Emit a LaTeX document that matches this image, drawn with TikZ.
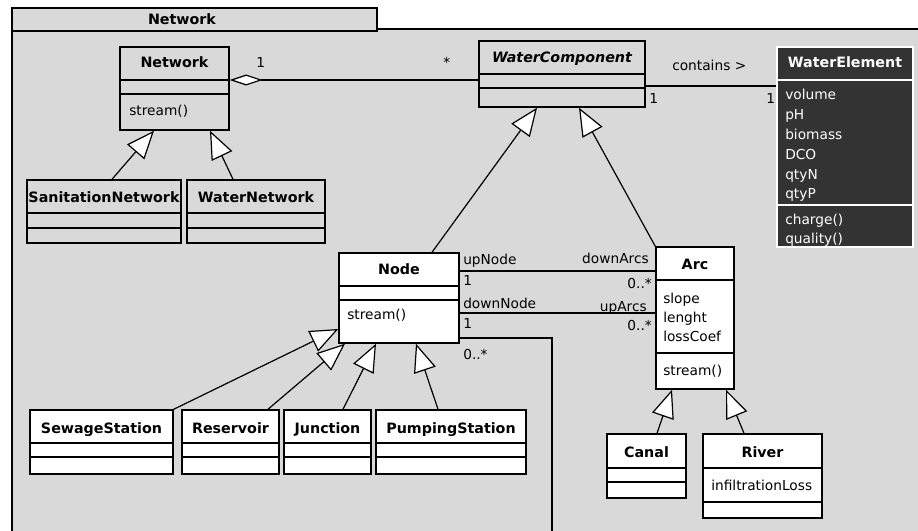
\documentclass[tikz,border=0pt]{standalone}
\usepackage{fontspec}
\setmainfont{DejaVu Sans}
\usetikzlibrary{arrows.meta,fit}
\definecolor{pkggray}{HTML}{D9D9D9}
\definecolor{darkbox}{HTML}{333333}
\begin{document}
\begin{tikzpicture}[x=0.75pt, y=-0.75pt,
    font=\fontsize{10.3}{12}\selectfont,
    cls/.style={draw, line width=1.1pt, fill=white, inner sep=0pt},
    sep/.style={line width=1.1pt},
    cname/.style={anchor=base, inner sep=0pt, font=\fontsize{10.7}{12}\selectfont\bfseries},
    item/.style={anchor=base west, inner sep=0pt},
    rlbl/.style={anchor=base east, inner sep=0pt},
    assoc/.style={line width=0.9pt},
    gen/.style={line width=0.9pt, -{Triangle[fill=white, length=21pt, width=17pt]}},
    aggr/.style={line width=0.9pt, {Diamond[fill=white, length=24.75pt, width=8.25pt]}-}]
    \useasboundingbox (0,0) rectangle (918,531);
    \clip (0,0) rectangle (918,531);

    % Package frame
    \draw[line width=1.3pt, fill=pkggray] (12,29) rectangle (940,560);
    \draw[line width=1.3pt, fill=pkggray] (12,8) rectangle (377,31);
    \node[cname] (pkgtitle) at (182,25) {Network};

    % Network hierarchy
    \node[cls, fill=pkggray, fit={(120,47) (229,130)}] (network) {};
    \draw[sep] (network.west |- 0,80) -- (network.east |- 0,80);
    \draw[sep] (network.west |- 0,94) -- (network.east |- 0,94);
    \node[cname] (networkname) at (network.north |- 0,68) {Network};
    \node[item] (networkop) at (129,116) {stream()};

    \node[cls, fill=pkggray, fit={(27,180) (181,243)}] (sanitation) {};
    \node[cls, fill=pkggray, fit={(187,180) (325,243)}] (waternet) {};
    \foreach \c in {sanitation,waternet} {
        \draw[sep] (\c.west |- 0,213) -- (\c.east |- 0,213);
        \draw[sep] (\c.west |- 0,228) -- (\c.east |- 0,228);
    }
    \node[cname] (sanitationname) at (sanitation.north |- 0,203) {SanitationNetwork};
    \node[cname] (waternetname) at (waternet.north |- 0,203) {WaterNetwork};

    \draw[gen] (sanitation.north -| 112,0) -- (network.south -| 154,0);
    \draw[gen] (waternet.north -| 233,0) -- (network.south -| 210,0);

    % WaterComponent
    \node[cls, fill=pkggray, fit={(479,41) (645,107)}] (watercomp) {};
    \draw[sep] (watercomp.west |- 0,74) -- (watercomp.east |- 0,74);
    \draw[sep] (watercomp.west |- 0,88) -- (watercomp.east |- 0,88);
    \node[cname, font=\fontsize{10.7}{12}\selectfont\bfseries\itshape] (watercompname) at (watercomp.north |- 0,63) {WaterComponent};

    \draw[aggr] (network.east |- 0,80) -- (watercomp.west |- 0,80);
    \node[item] (aggrone) at (256,68) {1};
    \node[item] (aggrmany) at (443,68) {*};

    % WaterElement
    \node[cls, draw=white, fill=darkbox, fit={(777,47) (913,247)}] (waterelem) {};
    \draw[sep, white] (waterelem.west |- 0,80) -- (waterelem.east |- 0,80);
    \draw[sep, white] (waterelem.west |- 0,205) -- (waterelem.east |- 0,205);
    \node[cname, white] (waterelemname) at (waterelem.north |- 0,68) {WaterElement};
    \foreach \a [count=\i] in {volume,pH,biomass,DCO,qtyN,qtyP} {
        \node[item, white] (weattr\i) at (785,{80.2+19.8*\i}) {\a};
    }
    \node[item, white] (wecharge) at (785,224) {charge()};
    \node[item, white] (wequality) at (785,243.5) {quality()};

    \draw[assoc] (watercomp.east |- 0,86) -- (waterelem.west |- 0,86);
    \node[item] (containslbl) at (672,71) {contains >};
    \node[item] (wcone) at (649,104) {1};
    \node[item] (weone) at (766,104) {1};

    % Node and Arc
    \node[cls, fit={(339,253) (459,343)}] (node) {};
    \draw[sep] (node.west |- 0,286) -- (node.east |- 0,286);
    \draw[sep] (node.west |- 0,300) -- (node.east |- 0,300);
    \node[cname] (nodename) at (node.north |- 0,275) {Node};
    \node[item] (nodeop) at (347,320) {stream()};

    \node[cls, fit={(656,247) (734,389)}] (arc) {};
    \draw[sep] (arc.west |- 0,280) -- (arc.east |- 0,280);
    \draw[sep] (arc.west |- 0,353) -- (arc.east |- 0,353);
    \node[cname] (arcname) at (arc.north |- 0,270) {Arc};
    \foreach \a [count=\i] in {slope,lenght,lossCoef} {
        \node[item] (arcattr\i) at (663,{284+19*\i}) {\a};
    }
    \node[item] (arcop) at (663,375) {stream()};

    \draw[gen] (node.north -| 432,0) -- (watercomp.south -| 537,0);
    \draw[gen] (arc.north west) -- (watercomp.south -| 579,0);

    % Node -- Arc associations
    \draw[assoc] (node.east |- 0,271) -- (arc.west |- 0,271);
    \draw[assoc] (node.east |- 0,313) -- (arc.west |- 0,313);
    \node[item] (upnode) at (463,265) {upNode};
    \node[item] (upnodeone) at (463,286) {1};
    \node[item] (downnode) at (463,308) {downNode};
    \node[item] (downnodeone) at (463,328) {1};
    \node[rlbl] (downarcs) at (649,263) {downArcs};
    \node[rlbl] (downarcsmany) at (652,288) {0..*};
    \node[rlbl] (uparcs) at (647,311) {upArcs};
    \node[rlbl] (uparcsmany) at (652,330) {0..*};

    % self association of Node
    \coordinate (selfloop) at (552,560);
    \draw[assoc] (node.east |- 0,338) -| (selfloop);
    \node[item] (selfmany) at (463,359) {0..*};

    % Node subclasses
    \node[cls, fit={(30,410) (173,474)}] (sewage) {};
    \node[cls, fit={(182,410) (279,474)}] (reservoir) {};
    \node[cls, fit={(284,410) (371,474)}] (junction) {};
    \node[cls, fit={(376,410) (526,474)}] (pumping) {};
    \foreach \c in {sewage,reservoir,junction,pumping} {
        \draw[sep] (\c.west |- 0,443) -- (\c.east |- 0,443);
        \draw[sep] (\c.west |- 0,457) -- (\c.east |- 0,457);
    }
    \node[cname] (sewagename) at (sewage.north |- 0,433) {SewageStation};
    \node[cname] (reservoirname) at (reservoir.north |- 0,433) {Reservoir};
    \node[cname] (junctionname) at (junction.north |- 0,433) {Junction};
    \node[cname] (pumpingname) at (pumping.north |- 0,433) {PumpingStation};

    \draw[gen] (sewage.north east) -- (node.west |- 0,329);
    \draw[gen] (reservoir.north -| 268,0) -- (node.south -| 345,0);
    \draw[gen] (junction.north -| 343,0) -- (node.south -| 376,0);
    \draw[gen] (pumping.north -| 438,0) -- (node.south -| 416,0);

    % Arc subclasses
    \node[cls, fit={(607,434) (686,498)}] (canal) {};
    \draw[sep] (canal.west |- 0,468) -- (canal.east |- 0,468);
    \draw[sep] (canal.west |- 0,482) -- (canal.east |- 0,482);
    \node[cname] (canalname) at (canal.north |- 0,457) {Canal};

    \node[cls, fit={(703,434) (822,518)}] (river) {};
    \draw[sep] (river.west |- 0,468) -- (river.east |- 0,468);
    \draw[sep] (river.west |- 0,502) -- (river.east |- 0,502);
    \node[cname] (rivername) at (river.north |- 0,457) {River};
    \node[item] (riverattr) at (711,490) {infiltrationLoss};

    \draw[gen] (canal.north -| 657,0) -- (arc.south -| 672,0);
    \draw[gen] (river.north -| 744,0) -- (arc.south -| 726,0);
\end{tikzpicture}
\end{document}
